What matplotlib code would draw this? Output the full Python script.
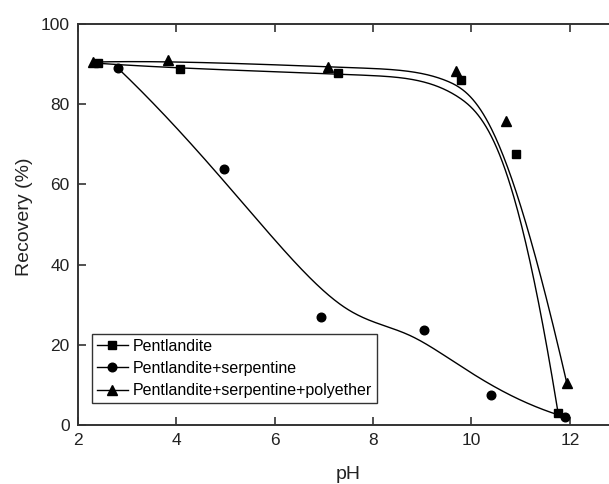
import matplotlib
matplotlib.use("Agg")
import matplotlib.pyplot as plt
import numpy as np

plt.rcParams['font.family'] = ['Liberation Sans', 'DejaVu Sans']

# data
ph_pent = [2.41, 4.07, 7.28, 9.79, 10.91, 11.76]
rec_pent = [90.2, 88.8, 87.7, 86.0, 67.6, 3.1]

ph_serp = [2.81, 4.96, 6.94, 9.04, 10.39, 11.90]
rec_serp = [89.0, 63.8, 26.9, 23.7, 7.6, 2.0]

ph_poly = [2.30, 3.84, 7.09, 9.68, 10.71, 11.94]
rec_poly = [90.5, 91.0, 89.2, 88.3, 75.8, 10.4]

labels = ['Pentlandite', 'Pentlandite+serpentine', 'Pentlandite+serpentine+polyether']


def bspline(xs, ys, k=3, num=400):
    # clamped cubic B-spline with the data points as control points,
    # knots by averaging the x values
    P = np.column_stack([xs, ys])
    n = len(P)
    xa = np.asarray(xs, float)
    ub = (xa - xa[0]) / (xa[-1] - xa[0])
    inner = [ub[j:j + k].mean() for j in range(1, n - k)]
    t = np.concatenate([np.zeros(k + 1), inner, np.ones(k + 1)])
    u = np.linspace(0, 1, num)
    u[-1] = 1 - 1e-12
    # Cox-de Boor
    N = np.zeros((num, len(t) - 1))
    for i in range(len(t) - 1):
        N[:, i] = ((u >= t[i]) & (u < t[i + 1])).astype(float)
    for p in range(1, k + 1):
        Nn = np.zeros((num, len(t) - 1 - p))
        for i in range(len(t) - 1 - p):
            a = 0.0
            b = 0.0
            if t[i + p] != t[i]:
                a = (u - t[i]) / (t[i + p] - t[i]) * N[:, i]
            if t[i + p + 1] != t[i + 1]:
                b = (t[i + p + 1] - u) / (t[i + p + 1] - t[i + 1]) * N[:, i + 1]
            Nn[:, i] = a + b
        N = Nn
    C = N @ P
    return C[:, 0], C[:, 1]


fig = plt.figure(figsize=(6.09, 4.84), dpi=100)
# axes runs to pH 13, right edge falls outside the picture
ax = fig.add_axes([78 / 609, 59 / 484, 541 / 609, 401 / 484])

series = [(ph_pent, rec_pent, 's', 5.5), (ph_serp, rec_serp, 'o', 6.2), (ph_poly, rec_poly, '^', 7.2)]
for (x, y, m, ms), lab in zip(series, labels):
    cx, cy = bspline(x, y)
    ax.plot(cx, cy, color='black', lw=1.0)
    ax.plot(x, y, linestyle='none', marker=m, ms=ms, color='black', clip_on=False)
    # legend handle: line + marker
    ax.plot([], [], color='black', lw=1.0, marker=m, ms=ms, label=lab)

ax.set_xlim(2, 13)
ax.set_ylim(0, 100)
ax.set_xticks([2, 4, 6, 8, 10, 12])
ax.set_yticks([0, 20, 40, 60, 80, 100])
for s in ['left', 'top', 'bottom', 'right']:
    ax.spines[s].set_linewidth(1.4)
    ax.spines[s].set_color('#333333')
ax.tick_params(direction='in', top=True, length=6, width=1.2, color='#333333',
               labelsize=12.5, pad=6, labelcolor='#222222')
ax.set_xlabel('pH', fontsize=14, color='#222222', labelpad=13)
ax.set_ylabel('Recovery (%)', fontsize=14, color='#222222')
ax.yaxis.set_label_coords(-0.083, 0.52)

leg = ax.legend(loc='lower left', bbox_to_anchor=(14 / 541, 22 / 401), fontsize=11.5,
                frameon=True, fancybox=False, edgecolor='#333333', framealpha=1,
                handlelength=1.95, handletextpad=0.3, labelspacing=0.45,
                borderpad=0.3, borderaxespad=0)
leg.get_frame().set_linewidth(1.0)

fig.savefig('out.png', dpi=100)
